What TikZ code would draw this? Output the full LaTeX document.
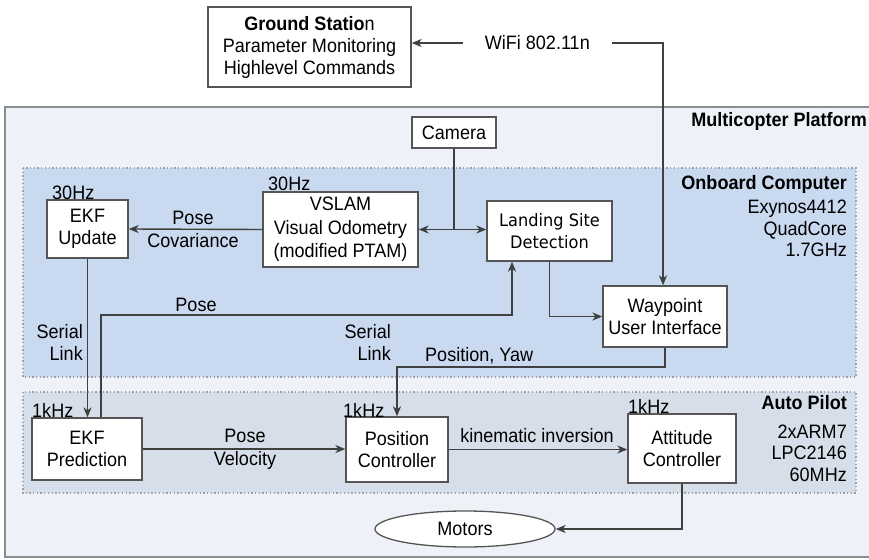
\documentclass[tikz,border=0pt]{standalone}
\usepackage{fontspec}
\setmainfont{Liberation Sans}[FakeStretch=0.93]
\newfontfamily\dejavu{DejaVu Sans}[FakeStretch=0.94]
\usetikzlibrary{arrows.meta,shapes.geometric,calc}

\definecolor{platformfill}{HTML}{EEF2F8}
\definecolor{onboardfill}{HTML}{C9D9EF}
\definecolor{pilotfill}{HTML}{D6DEE9}
\definecolor{linegray}{HTML}{404040}
\definecolor{boxgray}{HTML}{555555}
\definecolor{dotgray}{HTML}{9AA0AA}
\definecolor{framegray}{HTML}{8A8D92}

\begin{document}
\begin{tikzpicture}[x=1pt,y=-1pt,
  font=\fontsize{19.4}{22}\selectfont,
  block/.style={draw=boxgray,line width=1.3pt,fill=white,align=center,inner sep=0pt},
  region/.style={draw=dotgray,line width=1.3pt,dash pattern=on 1.3pt off 2.4pt},
  link/.style={draw=linegray,line width=1.4pt,-{Stealth[length=10pt,width=8pt,inset=3pt]}},
  dlink/.style={draw=linegray,line width=1.4pt,{Stealth[length=10pt,width=8pt,inset=3pt]}-{Stealth[length=10pt,width=8pt,inset=3pt]}},
  rate/.style={anchor=base west,inner sep=0pt},
  info/.style={anchor=base east,inner sep=0pt},
  lbl/.style={align=center,inner sep=0pt},
  titlefont/.style={font=\fontsize{19.4}{22}\selectfont\bfseries},
]
\useasboundingbox (0,0) rectangle (869,559);

% enclosing platform and the two processor areas
\draw[draw=framegray,line width=1.5pt,fill=platformfill] (5,107) rectangle (885,557);
\draw[region,fill=onboardfill] (23,168) rectangle (856,377);
\draw[region,fill=pilotfill] (23,392) rectangle (856,493);

% area titles
\node[info,titlefont] (tplat) at (867,126) {Multicopter Platform};
\node[info,titlefont] (tonb) at (847,189.5) {Onboard Computer};
\node[info] (tonb1) at (847,213) {Exynos4412};
\node[info] (tonb2) at (847,235) {QuadCore};
\node[info] (tonb3) at (847,256.5) {1.7GHz};
\node[info,titlefont] (tap) at (847,409.5) {Auto Pilot};
\node[info] (tap1) at (847,438) {2xARM7};
\node[info] (tap2) at (847,459) {LPC2146};
\node[info] (tap3) at (847,481) {60MHz};

% blocks
\node[block,minimum width=203pt,minimum height=80pt] (gs) at (309.5,47)
  {\textbf{Ground Statio}n\\Parameter Monitoring\\Highlevel Commands};
\node[block,minimum width=84pt,minimum height=31pt] (cam) at (454,132.5) {Camera};
\node[block,minimum width=81pt,minimum height=58pt] (ekfu) at (87.5,229) {EKF\\Update};
\node[block,minimum width=155pt,minimum height=75pt,font=\fontsize{19.4}{23.5}\selectfont] (vslam) at (340.5,229.5)
  {VSLAM\\Visual Odometry\\(modified PTAM)};
\node[block,minimum width=125pt,minimum height=60pt,font=\dejavu\fontsize{17.2}{22}\selectfont] (lsd) at (549.5,231)
  {Landing Site\\Detection};
\node[block,minimum width=124pt,minimum height=61pt] (wp) at (665,316.5) {Waypoint\\User Interface};
\node[block,minimum width=110pt,minimum height=62pt] (ekfp) at (87,449) {EKF\\Prediction};
\node[block,minimum width=102pt,minimum height=65pt] (posc) at (397,449.5) {Position\\Controller};
\node[block,minimum width=108pt,minimum height=69pt] (attc) at (682,448.5) {Attitude\\Controller};
\node[block,ellipse,minimum width=180pt,minimum height=36pt] (mot) at (465,529) {Motors};

% update rates
\node[rate] (r1) at (52,199.5) {30Hz};
\node[rate] (r2) at (268,190.5) {30Hz};
\node[rate] (r3) at (32,417) {1kHz};
\node[rate] (r4) at (343,417) {1kHz};
\node[rate] (r5) at (628,413.5) {1kHz};

% wireless link to the ground station
\coordinate (wc) at (663,43);
\draw[dlink] (gs.east |- wc) -- node[fill=white,inner xsep=22pt,inner ysep=2pt] (wifi) {WiFi 802.11n} (wc) -- (wc |- wp.north);

% camera feeds VSLAM and landing site detection
\coordinate (cj) at (cam.south |- vslam.east);
\draw[draw=linegray,line width=1.4pt] (cam.south) -- (cj);
\draw[dlink] (vslam.east) -- (lsd.west |- vslam.east);

% VSLAM to EKF update
\draw[link] (vslam.west) -- (ekfu.east);
\node[lbl] (lpc) at (193,229) {Pose\\[1pt]Covariance};

% EKF update to EKF prediction
\draw[link] (ekfu.south) -- (ekfu.south |- ekfp.north);
\node[lbl,align=right,anchor=east] (ls1) at (83,342) {Serial\\Link};

% pose from EKF prediction to landing site detection
\coordinate (pa) at (101,315);
\coordinate (pb) at (512,315);
\draw[link] (pa |- ekfp.north) -- (pa) -- (pb) -- (pb |- lsd.south);
\node[lbl] (lpose) at (196,305) {Pose};

% landing site detection to waypoint interface
\draw[link] (lsd.south) |- (wp.west);

% waypoint interface to position controller
\coordinate (py) at (wp.south |- 0,367);
\draw[link] (wp.south) -- (py) -| (posc.north);
\node[rate] (lpy) at (425,361) {Position, Yaw};
\node[lbl,align=right,anchor=east] (ls2) at (391,342) {Serial\\Link};

% auto pilot chain
\draw[link] (ekfp.east) -- (ekfp.east -| posc.west);
\node[lbl] (lpv) at (245,449) {Pose\\[1pt]Velocity};
\draw[link] (posc.east) -- (posc.east -| attc.west);
\node[lbl] (lki) at (537,436) {kinematic inversion};
\draw[link] (attc.south) |- (mot.east);
\end{tikzpicture}
\end{document}
